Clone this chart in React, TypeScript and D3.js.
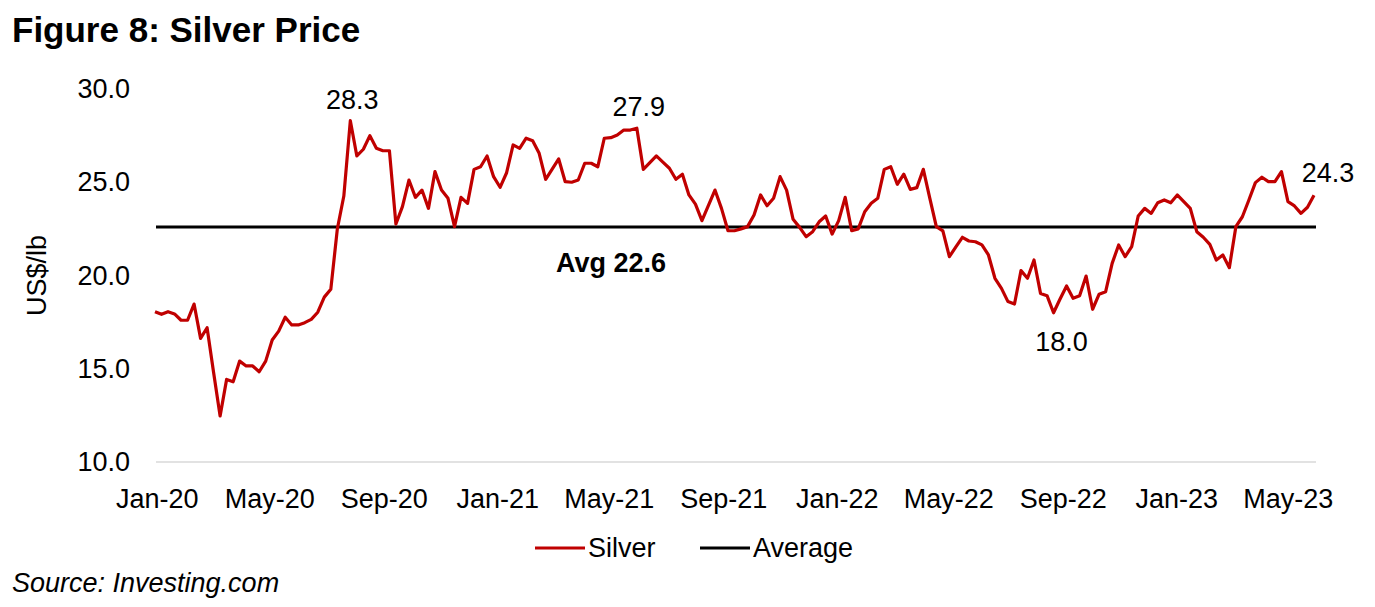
import { useEffect, useRef } from "react";
import * as d3 from "d3";

// weekly silver closes, US$/lb, starting week of 5 Jan 2020
const firstWeek = new Date(2020, 0, 5);
const silver: number[] = [
  18.06, 17.92, 18.06, 17.94, 17.6, 17.6, 18.47, 16.63, 17.2, 14.8,
  12.47, 14.43, 14.3, 15.41, 15.15, 15.15, 14.84, 15.41, 16.54, 17.02,
  17.76, 17.35, 17.35, 17.47, 17.65, 18.03, 18.84, 19.26, 22.49, 24.26,
  28.3, 26.41, 26.77, 27.5, 26.82, 26.69, 26.69, 22.76, 23.69, 25.12,
  24.19, 24.58, 23.6, 25.57, 24.58, 24.14, 22.62, 24.19, 23.87, 25.69,
  25.83, 26.41, 25.3, 24.73, 25.51, 27.0, 26.82, 27.36, 27.23, 26.55,
  25.16, 25.7, 26.25, 25.03, 25.0, 25.12, 26.02, 26.02, 25.83, 27.36,
  27.39, 27.53, 27.8, 27.8, 27.9, 25.69, 26.05, 26.41, 26.08, 25.75,
  25.16, 25.43, 24.32, 23.83, 22.94, 23.76, 24.58, 23.6, 22.4, 22.4,
  22.5, 22.62, 23.24, 24.32, 23.74, 24.14, 25.3, 24.58, 23.01, 22.58,
  22.08, 22.35, 22.88, 23.19, 22.22, 22.94, 24.19, 22.4, 22.5, 23.42,
  23.87, 24.14, 25.69, 25.83, 24.89, 25.43, 24.62, 24.71, 25.69, 24.14,
  22.62, 22.39, 21.01, 21.53, 22.05, 21.85, 21.81, 21.64, 21.1, 19.85,
  19.31, 18.6, 18.47, 20.26, 19.85, 20.83, 19.04, 18.92, 18.0, 18.74,
  19.44, 18.78, 18.92, 19.97, 18.19, 19.0, 19.13, 20.65, 21.64, 21.01,
  21.55, 23.19, 23.6, 23.33, 23.9, 24.05, 23.9, 24.32, 23.96, 23.6,
  22.35, 22.05, 21.67, 20.83, 21.1, 20.42, 22.62, 23.15, 24.05, 24.98,
  25.27, 25.03, 25.03, 25.57, 23.96, 23.73, 23.33, 23.66, 24.3,
];
const average = 22.6;
const yTicks = [10, 15, 20, 25, 30];
const xTicks = [
  "2020-01", "2020-05", "2020-09", "2021-01", "2021-05", "2021-09",
  "2022-01", "2022-05", "2022-09", "2023-01", "2023-05",
];
// index into silver of the points that carry a value label
const labelledPoints = [
  { index: 30, side: "above" },
  { index: 74, side: "above" },
  { index: 138, side: "below" },
  { index: 178, side: "right" },
];
const legendItems = [
  { name: "Silver", color: "#C00000" },
  { name: "Average", color: "#000000" },
];

const FONT = "'Liberation Sans', Arial, Helvetica, sans-serif";

export default function App() {
  const ref = useRef<SVGSVGElement>(null);

  useEffect(() => {
    const svg = d3.select(ref.current);
    svg.selectAll("*").remove();

    const data = silver.map((v, i) => ({ date: d3.timeWeek.offset(firstWeek, i), value: v }));

    const x = d3
      .scaleTime()
      .domain([data[0].date, data[data.length - 1].date])
      .range([155, 1314]);
    const y = d3.scaleLinear().domain([10, 30]).range([462, 89]);

    // title
    svg.append("text")
      .attr("x", 12).attr("y", 42)
      .attr("font-family", FONT).attr("font-size", 35).attr("font-weight", "bold")
      .text("Figure 8: Silver Price");

    // bottom axis line
    svg.append("line")
      .attr("x1", 156).attr("x2", 1316)
      .attr("y1", y(10)).attr("y2", y(10))
      .attr("stroke", "#d9d9d9").attr("stroke-width", 1.5);

    // y tick labels
    svg.append("g").selectAll("text").data(yTicks).enter().append("text")
      .attr("x", 130).attr("y", (d) => y(d) + 9)
      .attr("text-anchor", "end")
      .attr("font-family", FONT).attr("font-size", 27)
      .text((d) => d3.format(".1f")(d));

    // y axis title
    svg.append("text")
      .attr("transform", `translate(46,${(y(10) + y(30)) / 2}) rotate(-90)`)
      .attr("text-anchor", "middle")
      .attr("font-family", FONT).attr("font-size", 27)
      .text("US$/lb");

    // x tick labels
    const parse = d3.timeParse("%Y-%m");
    const fmt = d3.timeFormat("%b-%y");
    svg.append("g").selectAll("text").data(xTicks).enter().append("text")
      .attr("x", (d) => x(parse(d)!) + 6)
      .attr("y", 508)
      .attr("text-anchor", "middle")
      .attr("font-family", FONT).attr("font-size", 27)
      .text((d) => fmt(parse(d)!));

    // average line
    svg.append("line")
      .attr("x1", 156).attr("x2", 1316)
      .attr("y1", y(average)).attr("y2", y(average))
      .attr("stroke", "#000").attr("stroke-width", 3);

    svg.append("text")
      .attr("x", 611).attr("y", y(average) + 45)
      .attr("text-anchor", "middle")
      .attr("font-family", FONT).attr("font-size", 27).attr("font-weight", "bold")
      .text(`Avg ${d3.format(".1f")(average)}`);

    // silver line
    const line = d3.line<{ date: Date; value: number }>()
      .x((d) => x(d.date))
      .y((d) => y(d.value));
    svg.append("path")
      .datum(data)
      .attr("d", line)
      .attr("fill", "none")
      .attr("stroke", "#C00000")
      .attr("stroke-width", 3.2)
      .attr("stroke-linejoin", "round");

    // value labels
    svg.append("g").selectAll("text").data(labelledPoints).enter().append("text")
      .attr("x", (d) => {
        const px = x(data[d.index].date);
        if (d.side === "right") return px + 14;
        if (d.side === "below") return px + 8;
        return px + 2;
      })
      .attr("y", (d) => {
        const py = y(data[d.index].value);
        if (d.side === "above") return py - 12;
        if (d.side === "below") return py + 38;
        return py - 13;
      })
      .attr("text-anchor", "middle")
      .attr("font-family", FONT).attr("font-size", 27)
      .text((d) => d3.format(".1f")(data[d.index].value));

    // legend
    const legend = svg.append("g").attr("transform", "translate(535,548)");
    const item = legend.selectAll("g").data(legendItems).enter().append("g")
      .attr("transform", (_d, i) => `translate(${i * 165},0)`);
    item.append("line")
      .attr("x1", 0).attr("x2", 50).attr("y1", 0).attr("y2", 0)
      .attr("stroke", (d) => d.color).attr("stroke-width", 3);
    item.append("text")
      .attr("x", 53).attr("y", 9)
      .attr("font-family", FONT).attr("font-size", 27)
      .text((d) => d.name);

    // source
    svg.append("text")
      .attr("x", 12).attr("y", 592)
      .attr("font-family", FONT).attr("font-size", 27).attr("font-style", "italic")
      .text("Source: Investing.com");
  }, []);

  return (
    <div style={{ position: "absolute", left: 0, top: 0 }}>
      <svg ref={ref} width={1375} height={607} style={{ display: "block", background: "#fff" }} />
    </div>
  );
}
